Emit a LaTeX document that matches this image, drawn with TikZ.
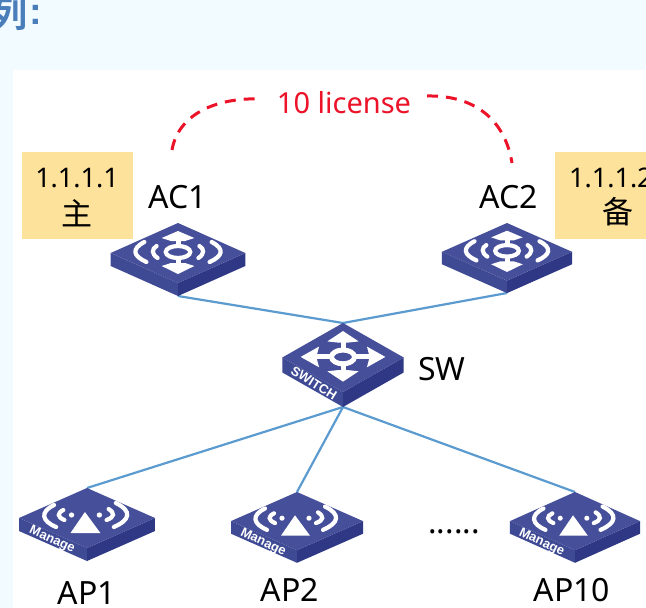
\documentclass[tikz,border=0pt]{standalone}
\usepackage{fontspec}
\setmainfont{Noto Sans}
\newfontfamily\cjk{Noto Sans CJK SC}
\newfontfamily\cjkb{Noto Sans CJK SC Bold}
\newfontfamily\facefont{Liberation Sans Bold}
\definecolor{bgblue}{HTML}{F2FBFF}
\definecolor{titleblue}{HTML}{4A7EBB}
\definecolor{noteyellow}{HTML}{FCE29B}
\definecolor{devtop}{HTML}{464F9A}
\definecolor{devleft}{HTML}{3F4A94}
\definecolor{devright}{HTML}{2E3885}
\definecolor{linkblue}{HTML}{5B9BD0}
\definecolor{licred}{HTML}{EC1228}
\tikzset{
  x=1pt,y=-1pt,
  link/.style={draw=linkblue,line width=2.2pt},
  licdash/.style={draw=licred,line width=3pt,dash pattern=on 11pt off 8pt},
  devlabel/.style={font=\fontsize{32}{32}\selectfont,text=black,inner sep=0pt},
  notelabel/.style={font=\fontsize{27}{27}\selectfont,text=black,inner sep=0pt},
  cjklabel/.style={font=\cjk\fontsize{31}{31}\selectfont,text=black,inner sep=0pt},
  glyphline/.style={draw=white,line width=4.2pt,line cap=round},
  facetext/.style={font=\facefont\fontsize{13}{13}\selectfont,text=white,inner sep=0pt},
}
\newcommand{\devbase}{%
  \fill[devleft] (-66,30)--(0,60)--(0,73)--(-66,43)--cycle;
  \fill[devright] (66,30)--(0,60)--(0,73)--(66,43)--cycle;
  \fill[devtop] (0,0)--(66,30)--(0,60)--(-66,30)--cycle;
}
\newcommand{\acglyph}{%
  \draw[white,line width=4.2pt] (0,29) ellipse [x radius=12,y radius=6];
  \draw[white,line width=5pt] (0,12)--(0,23) (0,35)--(0,46);
  \fill[white] (0,8)--(16,15)--(7,18)--(-7,18)--(-16,15)--cycle;
  \fill[white] (0,51)--(16,43)--(7,40)--(-7,40)--(-16,43)--cycle;
  \draw[glyphline] (-33,19) .. controls (-46,26) and (-44,33) .. (-31,39);
  \draw[glyphline] (-21,23) .. controls (-26,26) and (-26,31) .. (-20,35);
  \draw[glyphline] (33,19) .. controls (46,26) and (44,33) .. (31,39);
  \draw[glyphline] (21,23) .. controls (26,26) and (26,31) .. (20,35);
}
\newcommand{\swglyph}{%
  \draw[white,line width=5pt] (0,29.5) ellipse [x radius=12.5,y radius=6];
  \draw[white,line width=5pt] (0,14)--(0,23) (0,36)--(0,45) (-36,29.5)--(-13,29.5) (13,29.5)--(36,29.5);
  \fill[white] (0,7)--(17,16)--(6,17)--(-6,17)--(-17,16)--cycle;
  \fill[white] (0,51)--(17,42)--(6,41)--(-6,41)--(-17,42)--cycle;
  \fill[white] (-46,29.5)--(-26,20.5)--(-29,29.5)--(-26,38.5)--cycle;
  \fill[white] (46,29.5)--(26,20.5)--(29,29.5)--(26,38.5)--cycle;
}
\newcommand{\apglyph}{%
  \fill[white] (-2,24)--(13,45)--(-16,45)--cycle;
  \draw[glyphline] (-32,17) .. controls (-46,24) and (-44,33) .. (-30,39);
  \draw[glyphline] (-23,22) .. controls (-29,25) and (-29,29) .. (-22,32);
  \fill[white] (-15,27) circle [radius=2.6];
  \draw[glyphline] (28,15) .. controls (44,23) and (42,32) .. (26,39);
  \draw[glyphline] (21,21) .. controls (27,25) and (27,29) .. (19,32);
  \fill[white] (12,27) circle [radius=2.6];
}
\begin{document}
\begin{tikzpicture}
\clip (0,0) rectangle (646,608);
\fill[bgblue] (0,0) rectangle (646,608);
\fill[white] (13,70) rectangle (646,608);
\node[anchor=east,inner sep=0pt,text=titleblue,font=\cjkb\fontsize{36}{36}\selectfont] (title) at (28,14) {列};
\node[inner sep=0pt,text=titleblue,font=\facefont\fontsize{38}{38}\selectfont] (colon) at (36,15) {:};

% notes
\node[fill=noteyellow,minimum width=111pt,minimum height=87pt,inner sep=0pt] (note1) at (77.5,195.5) {};
\node[fill=noteyellow,minimum width=100pt,minimum height=87pt,inner sep=0pt,anchor=west] (note2) at (555,195.5) {};
\node[notelabel] (ip1) at (77,178) {1.1.1.1};
\node[cjklabel] (zhu) at (77,213) {主};
\node[notelabel,anchor=west] (ip2) at (569,178) {1.1.1.2};
\node[cjklabel] (bei) at (618,212) {备};

% connection points
\coordinate (ac1b) at (178,296);
\coordinate (ac2b) at (507,293);
\coordinate (swt) at (343,323);
\coordinate (swb) at (343,407);
\coordinate (ap1t) at (87,488);
\coordinate (ap2t) at (297,492);
\coordinate (ap10t) at (575,492);

\draw[link] (ac1b)--(swt);
\draw[link] (ac2b)--(swt);
\draw[link] (swb)--(ap1t);
\draw[link] (swb)--(ap2t);
\draw[link] (swb)--(ap10t);

% devices
\begin{scope}[shift={(178,223)},xscale=1.02,yscale=1]
  \devbase \acglyph
\end{scope}
\begin{scope}[shift={(507,223)},xscale=0.985,yscale=0.96]
  \devbase \acglyph
\end{scope}
\begin{scope}[shift={(343,323)},xscale=0.92,yscale=1.15]
  \devbase \swglyph
  \node[facetext,rotate=-32] (swtext) at (-31.5,52) {SWITCH};
\end{scope}
\begin{scope}[shift={(87,488)},xscale=1.03,yscale=1]
  \devbase \apglyph
  \node[facetext,rotate=-25] (mg1) at (-34,52) {Manage};
\end{scope}
\begin{scope}[shift={(297,492)},xscale=1,yscale=0.97]
  \devbase \apglyph
  \node[facetext,rotate=-25] (mg2) at (-34,52) {Manage};
\end{scope}
\begin{scope}[shift={(575,492)},xscale=0.985,yscale=0.97]
  \devbase \apglyph
  \node[facetext,rotate=-25] (mg3) at (-34,52) {Manage};
\end{scope}

% labels
\node[devlabel] (ac1) at (178,197) {AC1};
\node[devlabel] (ac2) at (509,197) {AC2};
\node[devlabel,anchor=west] (sw) at (418,369) {SW};
\node[devlabel] (ap1) at (87,593) {AP1};
\node[devlabel] (ap2) at (290,590) {AP2};
\node[devlabel] (ap10) at (572,590) {AP10};
\node[devlabel] (dots) at (454,532) {......};
\node[inner sep=0pt,text=licred,font=\fontsize{29}{29}\selectfont] (lic) at (344,103) {10 license};

% licence link
\coordinate (lica) at (172,150);
\coordinate (licb) at (262,99);
\coordinate (licc) at (427,96);
\coordinate (licd) at (512,163);
\draw[licdash] (lica) .. controls (178,115) and (215,97) .. (licb);
\draw[licdash] (licc) .. controls (475,95) and (505,120) .. (licd);
\end{tikzpicture}
\end{document}
